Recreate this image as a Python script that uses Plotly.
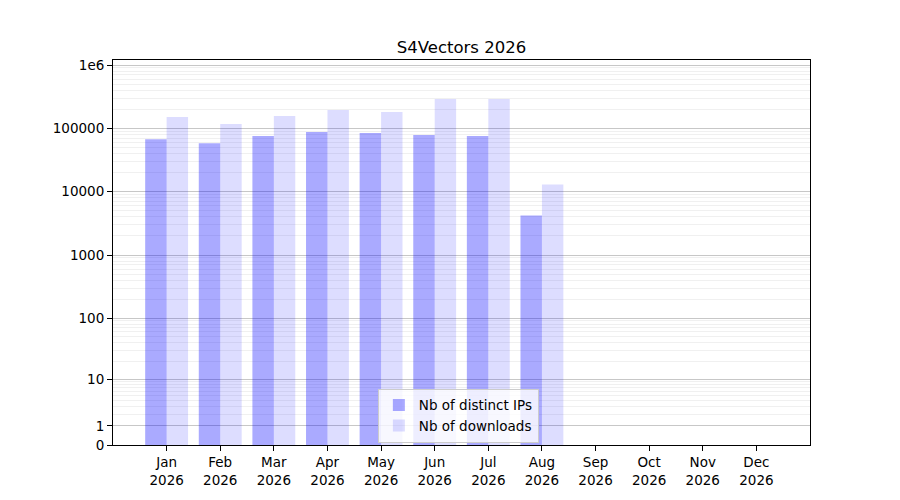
import numpy as np
import plotly.graph_objects as go

months = ["Jan", "Feb", "Mar", "Apr", "May", "Jun", "Jul", "Aug", "Sep", "Oct", "Nov", "Dec"]
year = 2026
distinct_ips = [67600, 58500, 75500, 87300, 84200, 78300, 75500, 4200, 0, 0, 0, 0]
downloads = [151000, 117000, 157000, 195000, 181000, 292000, 292000, 13000, 0, 0, 0, 0]
y_ticks = [0, 1, 10, 100, 1000, 10000, 100000, 1000000]
y_tick_labels = ["0", "1", "10", "100", "1000", "10000", "100000", "1e6"]


# y axis is log10(1 + n), like the original symlog-ish scale
def scale(v):
    return np.log10(1 + np.asarray(v, dtype=float))


x = list(range(len(months)))
minor_vals = [k * 10 ** n for n in range(0, 6) for k in range(2, 10)]

fig = go.Figure()
fig.add_trace(go.Bar(
    x=x, y=scale(distinct_ips), name="Nb of distinct IPs",
    marker_color="rgba(0,0,255,0.333)", marker_line_width=0,
))
fig.add_trace(go.Bar(
    x=x, y=scale(downloads), name="Nb of downloads",
    marker_color="rgba(0,0,255,0.135)", marker_line_width=0,
))

# page body has an 8px margin, so margins are shifted to keep the axes in place
fig.update_layout(
    width=900, height=500,
    paper_bgcolor="white", plot_bgcolor="white",
    margin=dict(l=104.5, r=98, t=52, b=63),
    font=dict(family="DejaVu Sans", size=13.5, color="#000000"),
    title=dict(text=f"S4Vectors {year}", x=0.5, xanchor="center", xref="paper",
               y=1, yref="paper", yanchor="bottom", pad=dict(b=7),
               font=dict(size=16.5)),
    barmode="group", bargap=0.2, bargroupgap=0,
    showlegend=True,
    legend=dict(x=0.38, y=0.006, xanchor="left", yanchor="bottom",
                bgcolor="rgba(255,255,255,0.8)", bordercolor="#cccccc",
                borderwidth=1, font=dict(size=13.5), tracegroupgap=0),
)
fig.update_xaxes(
    range=[-1, 12],
    tickmode="array", tickvals=x,
    ticktext=[f"{m}<br>{year}" for m in months],
    ticks="outside", ticklen=5, tickcolor="black",
    showline=True, linecolor="black", linewidth=1, mirror=True,
    showgrid=False, zeroline=False,
)
fig.update_yaxes(
    range=[0, 6.08],
    tickmode="array", tickvals=scale(y_ticks), ticktext=y_tick_labels,
    ticks="outside", ticklen=5, tickcolor="black",
    showline=True, linecolor="black", linewidth=1, mirror=True,
    showgrid=True, gridcolor="rgba(0,0,0,0.22)", gridwidth=1,
    zeroline=False,
    minor=dict(tickmode="array", tickvals=scale(minor_vals), showgrid=True,
               gridcolor="rgba(0,0,0,0.06)", gridwidth=1, ticks=""),
)

fig.write_html("out.html")
